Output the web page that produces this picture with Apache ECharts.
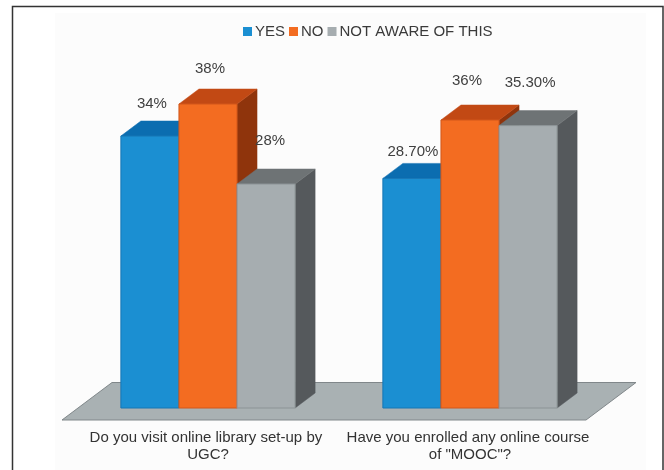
<!DOCTYPE html>
<html>
<head>
<meta charset="utf-8">
<script src="https://cdn.jsdelivr.net/npm/echarts@6/dist/echarts.min.js"></script>
<style>
  html, body { margin: 0; padding: 0; background: #ffffff; }
  #chart { width: 664px; height: 470px; }
</style>
</head>
<body>
<div id="chart"></div>
<script>
// Survey questions and answer shares (%)
const questions = [
  'Do you visit online library set-up by UGC?',
  'Have you enrolled any online course of "MOOC"?'
];
const seriesNames = ['YES', 'NO', 'NOT AWARE OF THIS'];
const yesValues = [34, 28.7];
const noValues = [38, 36];
const notAwareValues = [28, 35.3];

// Face colours per series: front, top, side
const palette = [
  { front: '#1b8fd2', top: '#0b6db0', side: '#0a5a92', edge: '#1676b4' },
  { front: '#f36c21', top: '#c24914', side: '#8f340c', edge: '#d2561a' },
  { front: '#a6adb0', top: '#6e7375', side: '#55595c', edge: '#8c9396' }
];
// Small hand nudges for the value labels [dx, dy] per series / question
const labelNudge = [
  [[0, 4], [-1, 9]],
  [[0, 1], [-5, -3]],
  [[2, -7], [0, -7]]
];
const DEPTH_X = 20, DEPTH_Y = -15;
const FONT_FAMILY = '"Liberation Sans", Arial, sans-serif';
const FONT = '15px ' + FONT_FAMILY;

function fmt(v) {
  return Number.isInteger(v) ? v + '%' : v.toFixed(2) + '%';
}

function barRenderer(sIdx) {
  return function (params, api) {
    const cat = api.value(0), v = api.value(1);
    const base = api.coord([cat, 0]);
    const top = api.coord([cat, v]);
    const band = api.size([1, 0])[0];
    const groupW = band * 0.665;
    const w = groupW / 3;
    const x0 = base[0] - groupW / 2 + sIdx * w;
    const x1 = x0 + w;
    const yT = top[1], yB = base[1];
    const c = palette[sIdx];
    const nudge = labelNudge[sIdx][params.dataIndex];
    return {
      type: 'group',
      children: [
        { type: 'polygon', shape: { points: [[x1, yT], [x1 + DEPTH_X, yT + DEPTH_Y], [x1 + DEPTH_X, yB + DEPTH_Y], [x1, yB]] },
          style: { fill: c.side, stroke: c.side, lineWidth: 0.5 } },
        { type: 'polygon', shape: { points: [[x0, yT], [x1, yT], [x1 + DEPTH_X, yT + DEPTH_Y], [x0 + DEPTH_X, yT + DEPTH_Y]] },
          style: { fill: c.top, stroke: c.top, lineWidth: 0.5 } },
        { type: 'rect', shape: { x: x0, y: yT, width: w, height: yB - yT },
          style: { fill: c.front, stroke: c.edge, lineWidth: 1 } },
        { type: 'text', x: x0 + w / 2 + 2 + nudge[0], y: yT - 36 + nudge[1],
          style: { text: fmt(v), font: FONT, fill: '#404040', align: 'center', verticalAlign: 'middle' } }
      ]
    };
  };
}

function floorRenderer(params, api) {
  const cs = params.coordSys;
  const yF = api.coord([0, 0])[1] + 12;
  const xl = cs.x - 15, xr = cs.x + cs.width - 15;
  const dx = DEPTH_X * 2.5, dy = DEPTH_Y * 2.5;
  return {
    type: 'polygon',
    shape: { points: [[xl, yF], [xr, yF], [xr + dx, yF + dy], [xl + dx, yF + dy]] },
    style: { fill: '#a9b1b3', stroke: '#80878a', lineWidth: 1 }
  };
}

const valueSets = [yesValues, noValues, notAwareValues];

const chart = echarts.init(document.getElementById('chart'), null, { renderer: 'canvas' });
chart.setOption({
  animation: false,
  backgroundColor: '#ffffff',
  graphic: [
    { type: 'rect', shape: { x: 55, y: 13, width: 591, height: 457 }, style: { fill: '#fcfcfc' }, z: -10 },
    { type: 'polyline', shape: { points: [[12.5, 470], [12.5, 6.5], [663, 6.5], [663, 470]] },
      style: { stroke: '#333333', lineWidth: 1.5, fill: null }, z: 100 }
  ],
  legend: {
    data: seriesNames,
    top: 19,
    left: 238,
    icon: 'rect',
    itemWidth: 9,
    itemHeight: 9,
    itemGap: 4,
    selectedMode: false,
    textStyle: { fontFamily: FONT_FAMILY, fontSize: 15, color: '#3a3a3a', padding: [0, 0, 0, -2] }
  },
  grid: { left: 77, width: 524, top: 88, height: 320 },
  xAxis: {
    type: 'category',
    data: questions,
    axisLine: { show: false },
    axisTick: { show: false },
    axisLabel: {
      interval: 0,
      margin: 22,
      width: 252,
      overflow: 'break',
      lineHeight: 16.5,
      fontFamily: FONT_FAMILY,
      fontSize: 15,
      color: '#333333'
    }
  },
  yAxis: { type: 'value', min: 0, max: 40, show: false },
  series: [
    {
      type: 'custom',
      name: 'floor',
      renderItem: floorRenderer,
      data: [[0, 0]],
      z: 1,
      silent: true
    }
  ].concat(seriesNames.map(function (name, i) {
    return {
      type: 'custom',
      name: name,
      itemStyle: { color: palette[i].front },
      renderItem: barRenderer(i),
      data: valueSets[i].map(function (v, j) { return [j, v]; }),
      z: 2
    };
  }))
});
</script>
</body>
</html>
